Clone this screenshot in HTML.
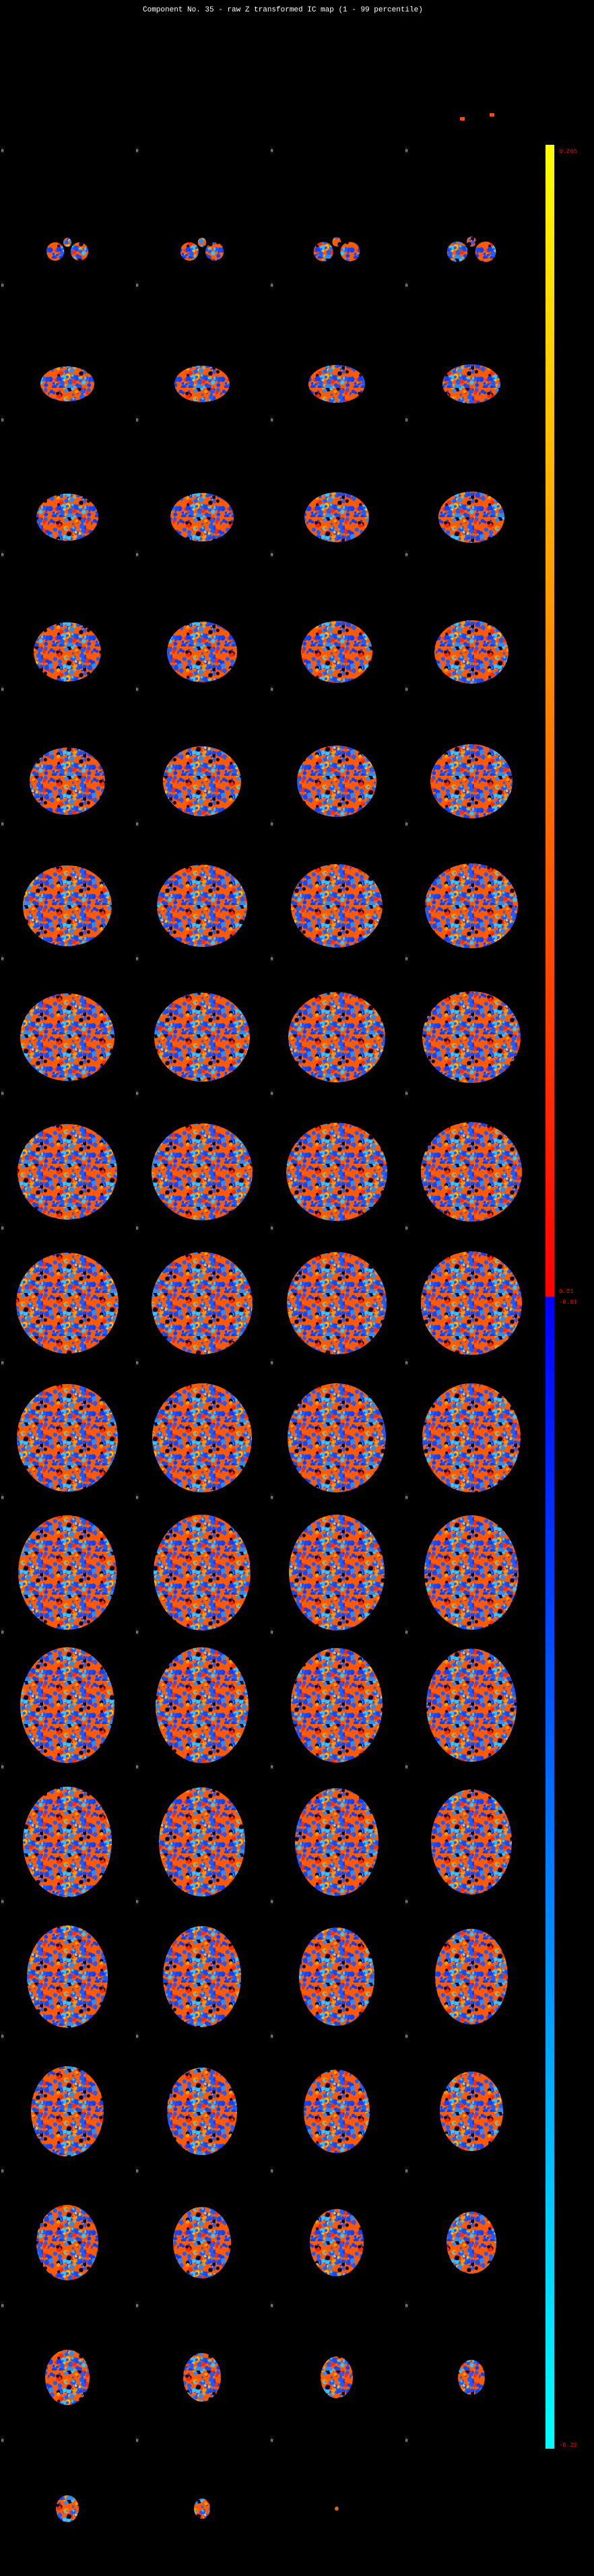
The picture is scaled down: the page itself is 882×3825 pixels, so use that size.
<!DOCTYPE html>
<html><head><meta charset="utf-8"><style>
html,body{margin:0;padding:0;background:#000;}
body{width:882px;height:3825px;position:relative;overflow:hidden;font-family:"Liberation Mono",monospace;}
svg{position:absolute;left:0;top:0;}
</style></head><body>
<svg id="fig" width="882" height="3825" viewBox="0 0 882 3825">
<defs>
<linearGradient id="cbar" x1="0" y1="0" x2="0" y2="1">
<stop offset="0" stop-color="#ffff00"/><stop offset="0.5" stop-color="#ff0000"/>
<stop offset="0.5" stop-color="#0000ff"/><stop offset="1" stop-color="#00ffff"/>
</linearGradient>
<pattern id="noise" width="64" height="64" patternUnits="userSpaceOnUse"><g id="noiseg"></g></pattern>
</defs>
<rect width="882" height="3825" fill="#000"/>
<text x="212" y="17" fill="#fff" font-size="11">Component No. 35 - raw Z transformed IC map (1 - 99 percentile)</text>
<g id="slices"></g>
<g id="rlabels"></g>
<rect x="810" y="215" width="13" height="3421" fill="url(#cbar)"/>
<text x="830" y="227" fill="#f00" font-size="9">0.265</text>
<text x="830" y="1920" fill="#f00" font-size="9">0.01</text>
<text x="830" y="1936" fill="#f00" font-size="9">-0.01</text>
<text x="830" y="3633" fill="#f00" font-size="9">-0.22</text>
</svg>
<script>
const NS="http://www.w3.org/2000/svg";
// slice widths/heights per row (4 columns each)
const sliceW=[[0,0,0,0],[60,62,66,70],[80,82,84,86],[92,94,96,98],[100,104,106,110],[112,116,118,122],[132,134,136,138],[140,142,144,146],[148,150,150,150],[152,150,148,150],[150,148,146,146],[146,144,142,140],[140,138,136,134],[132,128,124,120],[120,116,112,108],[108,104,98,94],[92,86,80,74],[66,56,48,40],[34,24,6,0]];
const sliceH=[[0,0,0,0],[34,34,36,38],[52,54,56,58],[70,72,74,76],[88,90,92,94],[100,104,106,110],[120,122,124,126],[130,132,134,136],[142,144,146,148],[150,152,152,154],[160,162,162,162],[170,172,172,170],[172,172,170,168],[164,162,160,156],[152,150,146,142],[134,130,124,118],[112,106,100,92],[82,72,62,52],[40,30,6,0]];
const rowCenterY=[170,370,570,768,968,1160,1345,1540,1740,1935,2135,2335,2532,2735,2935,3135,3330,3530,3725];
const colCenterX=[100,300,500,700];

// noise texture
let seed=11;function rnd(){seed=(seed*16807)%2147483647;return seed/2147483647;}
const ng=document.getElementById('noiseg');
const bg=document.createElementNS(NS,'rect');bg.setAttribute('width',64);bg.setAttribute('height',64);bg.setAttribute('fill','#ff5a00');ng.appendChild(bg);
const cols=['#1e5cff','#1e5cff','#1a48f0','#2a8cff','#30c8ff','#ffc000','#ff9a00','#ff2a00','#1040ff','#0a0a30','#1e5cff'];
for(let i=0;i<170;i++){const c=document.createElementNS(NS,'circle');
c.setAttribute('cx',(rnd()*64).toFixed(1));c.setAttribute('cy',(rnd()*64).toFixed(1));
c.setAttribute('r',(1.2+rnd()*2.8).toFixed(1));c.setAttribute('fill',cols[Math.floor(rnd()*cols.length)]);ng.appendChild(c);}

const sg=document.getElementById('slices');
function ell(cx,cy,rx,ry,name){const e=document.createElementNS(NS,'ellipse');
 
 
 e.setAttribute('cx',cx);e.setAttribute('cy',cy);e.setAttribute('rx',rx);e.setAttribute('ry',ry);e.setAttribute('fill','url(#noise)');
 sg.appendChild(e);}
for(let r=0;r<sliceW.length;r++){for(let c=0;c<4;c++){
 const w=sliceW[r][c],h=sliceH[r][c];if(!w||!h)continue;
 const cx=colCenterX[c],cy=rowCenterY[r];
 if(r===1){ // cerebellar lobes
  ell(cx-w*0.3,cy+h*0.1,w*0.22,h*0.4,'brain-slice');
  ell(cx+w*0.3,cy+h*0.1,w*0.22,h*0.4,'brain-slice');
  ell(cx,cy-h*0.3,w*0.1,h*0.2,'brain-slice');
 } else ell(cx,cy,w/2,h/2,'brain-slice');
}}
// tiny specks in top row
[[683,174],[727,168]].forEach(p=>{const e=document.createElementNS(NS,'rect');
 
 
 e.setAttribute('x',p[0]);e.setAttribute('y',p[1]);e.setAttribute('width',7);e.setAttribute('height',5);e.setAttribute('fill','#ff4a00');sg.appendChild(e);});

const rg=document.getElementById('rlabels');
for(let k=0;k<18;k++){for(let c=0;c<4;c++){
 const t=document.createElementNS(NS,'text');
 
 
 t.setAttribute('x',2+200*c);t.setAttribute('y',226+200*k);t.setAttribute('fill','#fff');t.setAttribute('font-size','6');
 t.textContent='R';rg.appendChild(t);}}
</script>
</body></html>
